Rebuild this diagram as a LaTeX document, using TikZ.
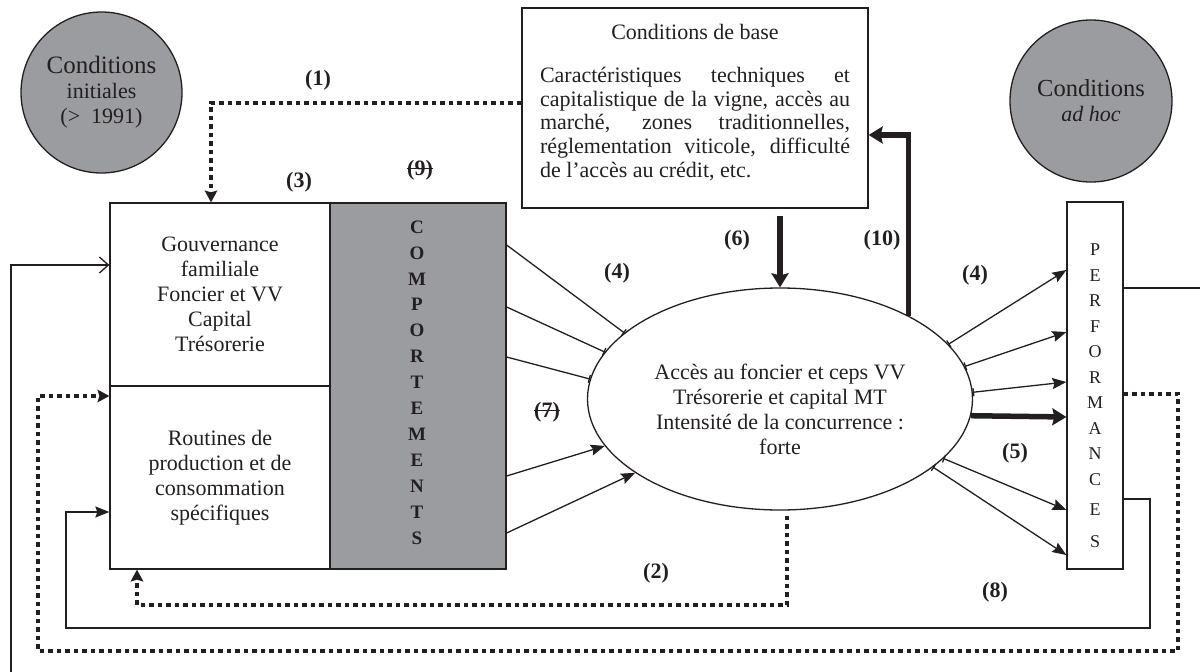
\documentclass[tikz,border=0pt]{standalone}
\usepackage{fontspec}
\setmainfont{Liberation Serif}
\usetikzlibrary{arrows.meta,calc,shapes.geometric}

\definecolor{ink}{RGB}{35,31,32}
\definecolor{boxgray}{RGB}{155,156,160}

% one justified line of the base-conditions box
\newcommand{\fullline}[1]{\makebox[310pt][s]{#1}}

\begin{document}
\begin{tikzpicture}[x=1pt,y=-1pt,
  every node/.style={font=\fontsize{22}{25}\selectfont, text=ink},
  frame/.style={draw=ink, line width=1.3pt, inner sep=0pt},
  disc/.style={circle, draw=ink, line width=1.3pt, fill=boxgray, inner sep=0pt, align=center},
  num/.style={font=\fontsize{22}{25}\selectfont\bfseries, inner sep=0pt},
  link/.style={draw=ink, line width=1.3pt},
  arr/.style={link, -{Stealth[length=14pt,width=11pt,inset=2pt]}},
  tarr/.style={link, {Bar[width=8pt,line width=1.3pt]}-{Stealth[length=14pt,width=11pt,inset=2pt]}},
  tend/.style={link, -{Bar[width=8pt,line width=1.3pt]}},
  openarr/.style={link, -{Straight Barb[length=9pt,width=16pt,line width=1.3pt]}},
  heavy/.style={draw=ink, line width=5.5pt},
  heavyarr/.style={heavy, -{Stealth[length=14pt,width=17pt,inset=2pt]}},
  dotline/.style={draw=ink, line width=4.5pt, dash pattern=on 4.5pt off 4pt},
  dotarr/.style={dotline, -{Stealth[length=12pt,width=13pt,inset=2pt,line width=0pt]}},
  strike/.style={draw=ink, line width=1.1pt}
]
\useasboundingbox (0,0) rectangle (1200,672);

% ---- framing conditions ----
\node[disc, minimum size=161pt] (ci) at (101.5,92.5)
  {\fontsize{25}{28.5}\selectfont Conditions\\initiales\\(>\enspace 1991)};
\node[disc, minimum size=162pt] (cah) at (1091,101)
  {\fontsize{24.5}{30}\selectfont Conditions\\\textit{ad hoc}};

% ---- conditions de base ----
\node[frame, minimum width=346pt, minimum height=200pt] (base) at (695,108) {};
\node (basetitle) at (695,32) {Conditions de base};
\node[text width=310pt, align=justify, inner sep=0pt,
      font=\fontsize{22}{23.7}\selectfont] (basetxt) at (695,124) {%
  \spaceskip=0pt \xspaceskip=0pt
  \fullline{Caractéristiques techniques et}\\
  \fullline{capitalistique de la vigne, accès au}\\
  \fullline{marché, zones traditionnelles,}\\
  \fullline{réglementation viticole, difficulté}\\
  de l’accès au crédit, etc.\hfill\null};

% ---- firm block ----
\node[frame, minimum width=220pt, minimum height=183pt, align=center] (gov) at (220,294.5)
  {Gouvernance\\familiale\\Foncier et VV\\Capital\\Trésorerie};
\node[frame, minimum width=220pt, minimum height=183pt, align=center] (rout) at (220,477.5)
  {Routines de\\production et de\\consommation\\spécifiques};
\node[frame, fill=boxgray, minimum width=176pt, minimum height=366pt] (comp) at (418,386) {};
\node[anchor=north, inner sep=0pt, align=center,
      font=\fontsize{19}{25.9}\selectfont\bfseries] (comptxt) at (417,220.5)
  {C\\O\\M\\P\\O\\R\\T\\E\\M\\E\\N\\T\\S};

% ---- market structure ----
\node[ellipse, draw=ink, line width=1.3pt, inner sep=0pt,
      minimum width=385pt, minimum height=222pt] (acc) at (780,399) {};
\node[align=center, inner sep=0pt] (acctxt) at (780,409)
  {Accès au foncier et ceps VV\\Trésorerie et capital MT\\Intensité de la concurrence :\\forte};

% ---- performances ----
\node[frame, minimum width=56pt, minimum height=367pt] (perf) at (1095,385.5) {};
\node[anchor=north, inner sep=0pt, align=center,
      font=\fontsize{18}{25.5}\selectfont] (perftxt) at (1095,244)
  {P\\E\\R\\F\\O\\R\\M\\A\\N\\C\\[4.5pt]E\\[6.5pt]S};

% ---- behaviours towards market ----
\draw[tend] (comp.east |- 0,245) -- (acc.157);
\draw[tend] (comp.east |- 0,307) -- (acc.165);
\draw[tend] (comp.east |- 0,357) -- (acc.174);
\draw[arr]  (comp.east |- 0,476) -- (acc.195);
\draw[arr]  (comp.east |- 0,533) -- (acc.207);

% ---- market towards performances ----
\draw[tarr] (acc.18) -- (perf.west |- 0,270);
\draw[tarr] (acc.10) -- (perf.west |- 0,332);
\draw[tarr] (acc.2) -- (perf.west |- 0,382);
\draw[heavyarr] (acc.-5) -- (perf.west |- 0,417);
\draw[tarr] (acc.-20) -- (perf.west |- 0,510);
\draw[tarr] (acc.-24) -- (perf.west |- 0,555);

% ---- base conditions and market ----
\draw[heavyarr] ($(base.south -| acc.north)+(0,7)$) -- (acc.north);
\draw[heavyarr] (acc.33) |- ([yshift=-27pt]base.east);

% ---- feedback loops ----
\draw[dotarr] ([yshift=5pt]base.west) -| ([xshift=-9pt]gov.north);
\coordinate (b2) at (787,605);
\draw[dotarr] ($(acc.south -| b2)+(0,5)$) -- (b2) -| ([xshift=-83pt]rout.south);
\coordinate (r1) at (1178,651);
\draw[dotarr] (perf.east |- 0,394) -| (r1) -| (38,396) -- (rout.west |- 0,396);
\draw[arr] (perf.east |- 0,499) -| (1150,628) -| (66,512) -- (rout.west |- 0,512);
\coordinate (offR) at (1200,288);
\draw[link] (perf.east |- offR) -- (offR);
\coordinate (offB) at (11,672);
\draw[openarr] (offB) |- (gov.west |- 0,265);

% ---- numbered links ----
\node[num] (n1) at (318,80) {(1)};
\node[num] (n2) at (656,573) {(2)};
\node[num] (n3) at (299,182) {(3)};
\node[num] (n4a) at (617,273) {(4)};
\node[num] (n4b) at (975,275) {(4)};
\node[num] (n5) at (1015,453) {(5)};
\node[num] (n6) at (737,240) {(6)};
\node[num] (n7) at (547,412) {(7)};
\node[num] (n8) at (995,592) {(8)};
\node[num] (n9) at (420,170) {(9)};
\node[num] (n10) at (882,240) {(10)};
\draw[strike] ([yshift=1.5pt]n7.west) -- ([yshift=1.5pt]n7.east);
\draw[strike] ([yshift=1.5pt]n9.west) -- ([yshift=1.5pt]n9.east);
\end{tikzpicture}
\end{document}
